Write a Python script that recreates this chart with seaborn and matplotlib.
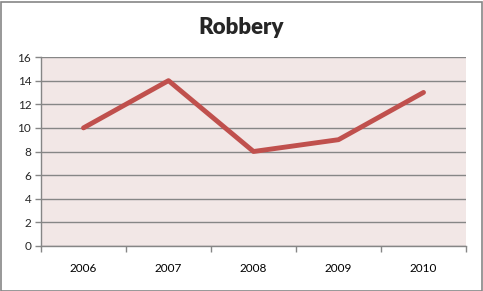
import matplotlib
matplotlib.use("Agg")
import matplotlib.pyplot as plt
import seaborn as sns
import pandas as pd
from matplotlib.patches import Rectangle

years = ["2006", "2007", "2008", "2009", "2010"]
robbery = [10, 14, 8, 9, 13]
yticks = [0, 2, 4, 6, 8, 10, 12, 14, 16]

sns.set_theme(style="white")
plt.rcParams['font.family'] = ['Lato', 'DejaVu Sans']

df = pd.DataFrame({"year": years, "robbery": robbery})

fig = plt.figure(figsize=(4.83, 2.91), dpi=100)
ax = fig.add_axes([41/483, 45/291, 425/483, 189/291])
ax.set_facecolor("#F2E7E6")

sns.lineplot(data=df, x="year", y="robbery", ax=ax, color="#C0504D",
             linewidth=3.5, solid_capstyle="round", sort=False)

ax.set_xlim(-0.5, 4.5)
ax.set_ylim(0, 16)
ax.set_yticks(yticks)
ax.set_yticklabels([str(v) for v in yticks])
ax.yaxis.grid(True, color="#868686", linewidth=1)
ax.set_axisbelow(True)
ax.set_xlabel("")
ax.set_ylabel("")

ax.set_xticks(range(len(years)))
ax.set_xticklabels(years)
ax.set_xticks([i - 0.5 for i in range(len(years) + 1)], minor=True)
ax.tick_params(axis="x", which="major", length=0, pad=12, labelsize=8.5, colors="black")
ax.tick_params(axis="x", which="minor", length=4, width=1, color="#868686", direction="out", bottom=True)
ax.tick_params(axis="y", which="major", length=4, width=1, color="#868686", direction="out", left=True, labelsize=8.5, pad=3)

for s in ["top", "right"]:
    ax.spines[s].set_visible(False)
for s in ["left", "bottom"]:
    ax.spines[s].set_color("#868686")
    ax.spines[s].set_linewidth(1)

fig.text(0.5, 1 - 27/291, "Robbery", ha="center", va="center", fontsize=16, fontweight="heavy")

fig.patches.append(Rectangle((0.5/483, 0.5/291), 481/483, 289/291, transform=fig.transFigure,
                             fill=False, edgecolor="#868686", linewidth=1.2))

fig.savefig("out.png", dpi=100)
